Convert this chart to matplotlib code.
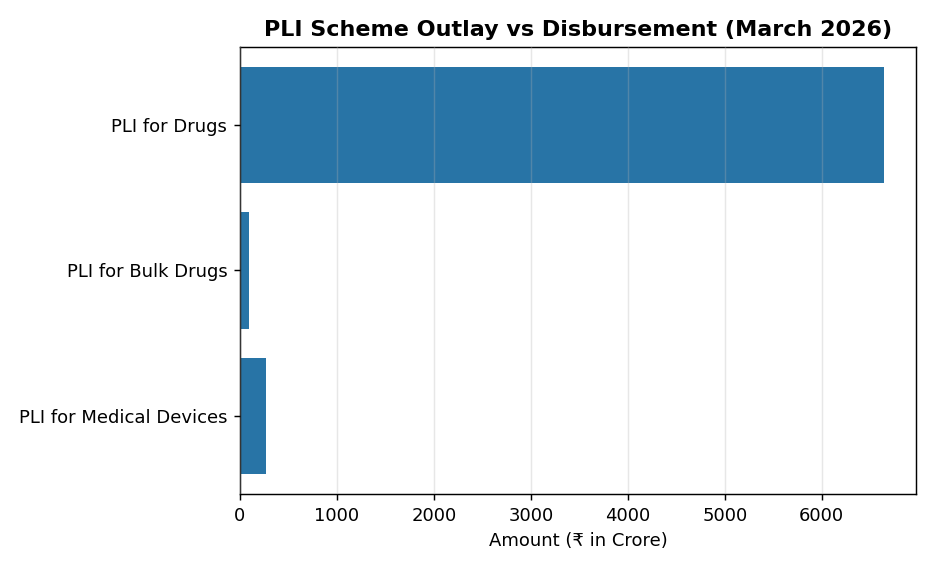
import matplotlib
matplotlib.use("Agg")
import matplotlib.pyplot as plt

schemes = ["PLI for Drugs", "PLI for Bulk Drugs", "PLI for Medical Devices"]
disbursed = [6640, 90, 265]

fig, ax = plt.subplots(figsize=(7.2, 4.4), dpi=130)
fig.subplots_adjust(left=0.2564, right=0.9786, top=0.9178, bottom=0.1364)

ax.barh(schemes, disbursed, color="#2874a6")
ax.invert_yaxis()
ax.grid(axis="x", alpha=0.3)
ax.set_axisbelow(False)

ax.set_title("PLI Scheme Outlay vs Disbursement (March 2026)", fontsize=12.3, fontweight="bold")
ax.set_xlabel("Amount (₹ in Crore)")

fig.savefig("out.png", dpi=130)
